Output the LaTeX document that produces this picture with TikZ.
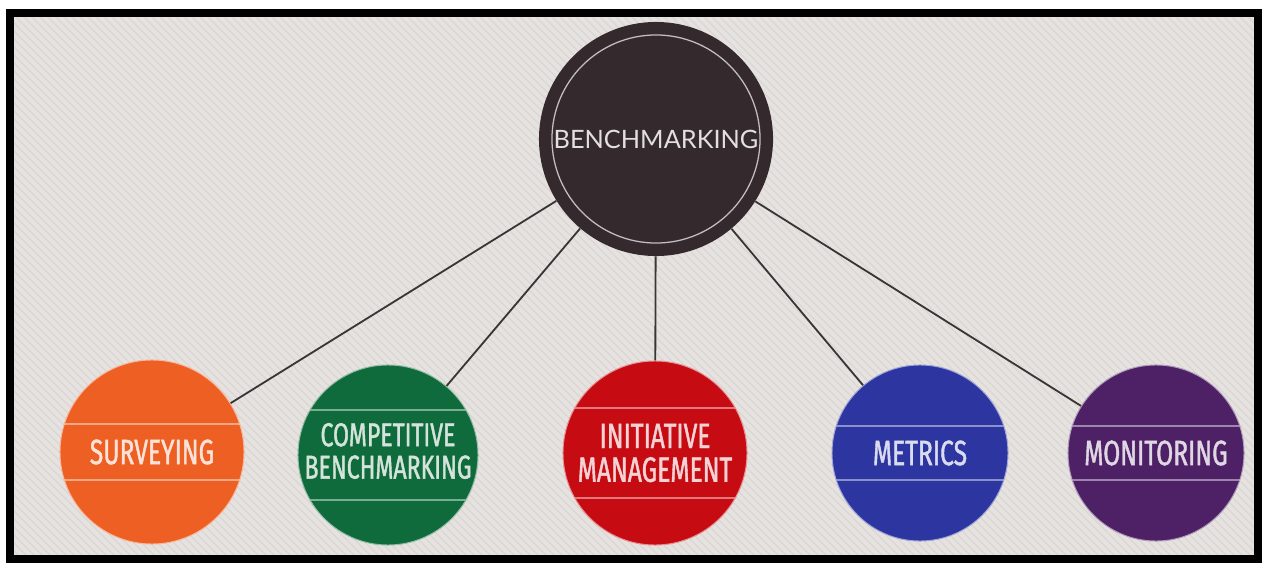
\documentclass[tikz,border=0pt]{standalone}
\usepackage{fontspec}
\usepackage{tikz}
\newfontfamily\hubfont{Lato}
\newfontfamily\tagfont[FakeStretch=0.7, FakeBold=1.2]{Fira Sans}
\definecolor{hubgray}{HTML}{342A2E}
\definecolor{paper}{HTML}{E6E2DF}
\definecolor{stripe}{HTML}{DAD6D3}
\definecolor{surveyorange}{HTML}{EE5F24}
\definecolor{compgreen}{HTML}{0F6B3B}
\definecolor{initred}{HTML}{C70B12}
\definecolor{metricblue}{HTML}{2D36A0}
\definecolor{monpurple}{HTML}{4E2166}
\definecolor{linkgray}{HTML}{3A3636}
\tikzset{
    hub/.style={shape=circle, inner sep=0pt, minimum size=5.85cm, fill=hubgray,
        text=white!85!hubgray, font=\hubfont\fontsize{18}{22}\selectfont,
        path picture={\draw[white!70!hubgray, line width=0.9pt] (path picture bounding box.center) circle (2.6cm);}},
    topic/.style={shape=circle, inner sep=0pt, fill=#1, draw=white!55!#1, line width=0.7pt},
    tag/.style={text=white!82!#1, align=center, inner sep=0pt, font=\tagfont\fontsize{25}{24}\selectfont},
    band/.style={path picture={
        \foreach \s in {#1,-#1}
            \draw[white, opacity=0.45, line width=1.3pt] ([yshift=\s cm]path picture bounding box.west) -- ([yshift=\s cm]path picture bounding box.east);}},
    link/.style={draw=linkgray, line width=1.3pt}
}

\begin{document}
\begin{tikzpicture}[x=0.025cm, y=-0.025cm]
                
                    \useasboundingbox (0,0) rectangle (1262,565);
                    % striped paper
                    \fill[paper] (14,17) rectangle (1256,556);
                    \begin{scope}
                        \clip (14,17) rectangle (1256,556);
                        \foreach \i in {-560,-552,...,1260}
                            \draw[stripe, line width=0.9pt] (\i,17) -- ++(540,540);
                    \end{scope}
                
                    \node[hub] (B) at (656,139) {BENCHMARKING};
                    \node[topic=surveyorange, minimum size=4.6cm, band=0.7,
                        label={[tag=surveyorange]center:SURVEYING}] (S) at (152,452) {};
                    \node[topic=compgreen, minimum size=4.5cm, band=1.13,
                        label={[tag=compgreen, font=\tagfont\fontsize{23.5}{23}\selectfont, yshift=0.1cm]center:{COMPETITIVE\\BENCHMARKING}}] (C) at (388,455) {};
                    \node[topic=initred, minimum size=4.6cm, band=1.13,
                        label={[tag=initred]center:{INITIATIVE\\MANAGEMENT}}] (I) at (655,453) {};
                    \node[topic=metricblue, minimum size=4.4cm, band=0.68,
                        label={[tag=metricblue]center:METRICS}] (M) at (920,453) {};
                    \node[topic=monpurple, minimum size=4.4cm, band=0.68,
                        label={[tag=monpurple]center:MONITORING}] (N) at (1156,453) {};
                
                    \draw[link] (B) -- (S);
                    \draw[link] (B) -- (C);
                    \draw[link] (B) -- (I);
                    \draw[link] (B) -- (M);
                    \draw[link] (B) -- (N);
                
                    \draw[line width=0.2cm] (10,13) rectangle (1258,559);
            
                \end{tikzpicture}
\end{document}
